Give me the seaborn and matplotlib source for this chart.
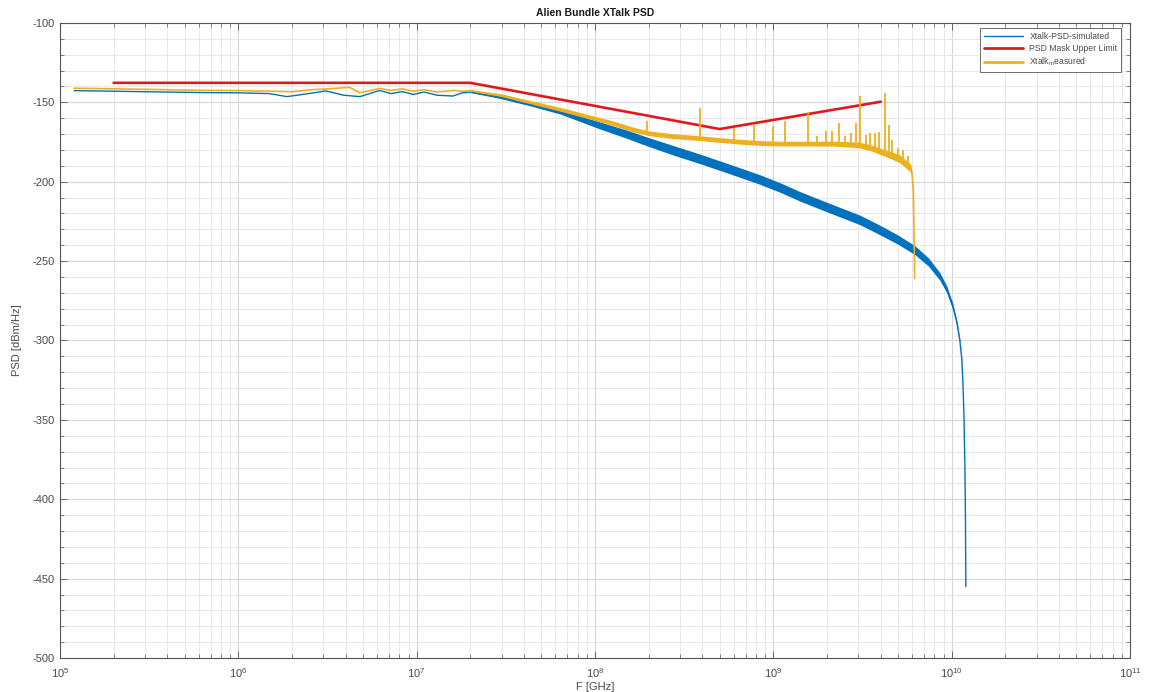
import numpy as np
import pandas as pd
import matplotlib
matplotlib.use("Agg")
import matplotlib.pyplot as plt
import seaborn as sns
from matplotlib.lines import Line2D
from matplotlib.ticker import MultipleLocator, FixedLocator, LogFormatterSciNotation, NullFormatter

# ---------------- data ----------------
sim_freq = [1.2e5, 3e5, 6e5, 1e6, 1.5e6, 1.87e6, 2.3e6, 3.1e6, 3.9e6, 4.8e6, 6.2e6,
            7.2e6, 8.3e6, 9.6e6, 1.1e7, 1.3e7, 1.6e7, 1.8e7, 2.0e7, 2.95e7, 4.3e7, 6.4e7,
            1.05e8, 1.5e8, 2.0e8, 2.8e8, 3.9e8, 5.7e8, 8.4e8, 1.1e9, 1.41e9, 2.0e9,
            3.05e9, 3.96e9, 5.0e9, 6.2e9, 7.4e9, 8.6e9, 9.4e9, 1.016e10, 1.07e10,
            1.11e10, 1.14e10, 1.156e10, 1.172e10, 1.186e10, 1.195e10, 1.2e10]
sim_psd = [-142.6, -143.3, -143.8, -144.0, -144.5, -146.4, -145.0, -142.8, -145.5, -146.4, -142.5,
           -144.5, -143.2, -145.0, -143.5, -145.5, -146.0, -144.0, -143.5, -146.8, -151.0, -155.9,
           -164.3, -170.0, -175.0, -180.5, -185.7, -192.0, -198.6, -203.8, -209.2, -216.0,
           -224.0, -230.4, -236.5, -243.0, -250.5, -259.8, -268.0, -278.7, -289.0,
           -299.7, -312.0, -326.8, -348.0, -379.5, -415.0, -455.0]
sim_band = [0, 0, 0, 0, 0, 0, 0, 0, 0, 0, 0,
            0, 0, 0, 0, 0, 0, 0, 0.3, 0.8, 1.1, 1.5,
            2.2, 2.6, 2.8, 3.0, 3.0, 3.0, 3.0, 3.0, 3.0, 3.0,
            3.0, 3.0, 2.9, 2.8, 2.6, 2.4, 2.1, 1.8, 1.2,
            0.8, 0.3, 0, 0, 0, 0, 0]

mask_freq = [2e5, 2e7, 5e8, 4e9]
mask_psd = [-137.7, -137.7, -166.8, -149.6]

meas_freq = [1.2e5, 3e5, 6e5, 1e6, 1.6e6, 2.0e6, 2.6e6, 3.2e6, 4.2e6, 4.8e6, 6.2e6,
             7.2e6, 8.3e6, 9.6e6, 1.1e7, 1.3e7, 1.6e7, 1.8e7, 2.0e7, 2.95e7, 6.4e7,
             1.27e8, 1.6e8, 2.0e8, 2.7e8, 3.9e8, 5e8, 6.5e8, 8.4e8, 1.1e9, 1.6e9,
             2.2e9, 3e9, 3.5e9, 4e9, 4.5e9, 5.1e9, 5.9e9, 6.0e9, 6.1e9, 6.2e9]
meas_psd = [-141.1, -141.8, -142.4, -142.6, -143.0, -143.3, -142.0, -141.5, -140.5, -144.0, -141.2,
            -142.5, -141.5, -143.0, -142.0, -143.5, -142.5, -143.0, -142.6, -145.4, -154.4,
            -163.2, -166.8, -169.5, -171.2, -172.6, -173.7, -174.8, -175.6, -176.0, -176.0,
            -176.0, -176.8, -178.5, -181.0, -183.0, -185.5, -191.5, -196.0, -207.0, -261.0]
meas_band = [0, 0, 0, 0, 0, 0, 0, 0, 0, 0, 0,
             0, 0, 0, 0, 0, 0, 0, 0.3, 0.8, 1.2,
             1.4, 1.5, 1.5, 1.5, 1.5, 1.5, 1.5, 1.5, 1.5, 1.5,
             1.6, 1.8, 1.9, 2.0, 2.2, 2.5, 2.5, 2.0, 1.0, 0]

spike_freq = [1.96e8, 3.9e8, 6.0e8, 7.8e8, 1.0e9, 1.16e9, 1.57e9, 1.75e9, 1.98e9, 2.13e9,
              2.32e9, 2.53e9, 2.71e9, 2.92e9, 3.08e9, 3.32e9, 3.5e9, 3.7e9, 3.9e9, 4.24e9,
              4.44e9, 4.65e9, 5.0e9, 5.3e9, 5.7e9]
spike_top = [-161.7, -153.7, -166.0, -163.8, -164.9, -161.5, -156.3, -171.0, -167.8, -167.8,
             -163.2, -171.0, -169.5, -163.2, -145.8, -170.6, -169.5, -169.5, -168.4, -143.9,
             -164.3, -173.7, -179.0, -180.0, -184.0]

x_decades = [1e5, 1e6, 1e7, 1e8, 1e9, 1e10, 1e11]
labels = ["Xtalk-PSD-simulated", "PSD Mask Upper Limit", r"Xtalk$_{\mathrm{m}}$easured"]
title = "Alien Bundle XTalk PSD"
xlabel = "F [GHz]"
ylabel = "PSD [dBm/Hz]"

# ---------------- style ----------------
sns.set_theme(style="ticks")
plt.rcParams["font.family"] = ["Liberation Sans", "DejaVu Sans"]
plt.rcParams["mathtext.fontset"] = "custom"
plt.rcParams["mathtext.rm"] = "Liberation Sans"
plt.rcParams["mathtext.it"] = "Liberation Sans:italic"
plt.rcParams["mathtext.bf"] = "Liberation Sans:bold"
plt.rcParams["axes.unicode_minus"] = False

BLUE = "#0072BD"
RED = "#E0191F"
YELLOW = "#EDB120"
TXT = "#4a4a4a"

fig = plt.figure(figsize=(11.51, 6.92), dpi=100)
ax = fig.add_axes([0.0521, 0.0491, 0.9297, 0.9177])

sim = pd.DataFrame({"freq": sim_freq, "psd": sim_psd, "band": sim_band})
mask = pd.DataFrame({"freq": mask_freq, "psd": mask_psd})
meas = pd.DataFrame({"freq": meas_freq, "psd": meas_psd, "band": meas_band})

ax.set_xscale("log")

# simulated
ax.fill_between(sim["freq"], sim["psd"] - sim["band"], sim["psd"] + sim["band"],
                color=BLUE, lw=0, zorder=2)
sns.lineplot(data=sim, x="freq", y="psd", ax=ax, color=BLUE, lw=1.0,
             estimator=None, sort=False, zorder=2.1)
# mask
sns.lineplot(data=mask, x="freq", y="psd", ax=ax, color=RED, lw=1.9,
             estimator=None, sort=False, zorder=3)
# measured
ax.fill_between(meas["freq"], meas["psd"] - meas["band"], meas["psd"] + meas["band"],
                color=YELLOW, lw=0, zorder=4)
sns.lineplot(data=meas, x="freq", y="psd", ax=ax, color=YELLOW, lw=1.2,
             estimator=None, sort=False, zorder=4.1)
spike_base = np.interp(np.log10(spike_freq), np.log10(meas_freq), meas_psd)
ax.vlines(spike_freq, spike_base, spike_top, color=YELLOW, lw=1.3, zorder=4.2)

# axes
ax.set_xlim(1e5, 1e11)
ax.set_ylim(-500, -100)
ax.yaxis.set_major_locator(MultipleLocator(50))
ax.yaxis.set_minor_locator(MultipleLocator(10))
minor_x = [d * k for d in x_decades[:-1] for k in range(2, 10)]
ax.xaxis.set_major_locator(FixedLocator(x_decades))
ax.xaxis.set_major_formatter(LogFormatterSciNotation())
ax.xaxis.set_minor_locator(FixedLocator(minor_x))
ax.xaxis.set_minor_formatter(NullFormatter())

ax.grid(True, which="major", color="#d6d6d6", lw=0.8)
ax.grid(True, which="minor", color="#e4e4e4", lw=0.6)
ax.set_axisbelow(True)

ax.tick_params(which="both", direction="in", top=True, right=True,
               colors="#555555", labelcolor=TXT, labelsize=8)
ax.tick_params(which="major", length=5, width=0.6)
ax.tick_params(which="minor", length=3, width=0.5)
ax.tick_params(axis="x", pad=6)
for sp in ax.spines.values():
    sp.set_color("#555555")
    sp.set_linewidth(0.8)

ax.set_title(title, fontsize=7.5, fontweight="bold", color="#1a1a1a", pad=5)
ax.set_xlabel(xlabel, fontsize=8, color=TXT, labelpad=1)
ax.set_ylabel(ylabel, fontsize=8, color=TXT, labelpad=8)

handles = [Line2D([], [], color=BLUE, lw=1.0),
           Line2D([], [], color=RED, lw=2.0),
           Line2D([], [], color=YELLOW, lw=2.0)]
leg = ax.legend(handles, labels, loc="upper right", fontsize=6.2, frameon=True,
                fancybox=False, edgecolor="#555555", framealpha=1,
                handlelength=4.5, borderpad=0.4, labelspacing=0.35,
                bbox_to_anchor=(0.9955, 0.9985))
leg.get_frame().set_linewidth(0.6)
for t in leg.get_texts():
    t.set_color(TXT)

fig.savefig("out.png", dpi=100)
